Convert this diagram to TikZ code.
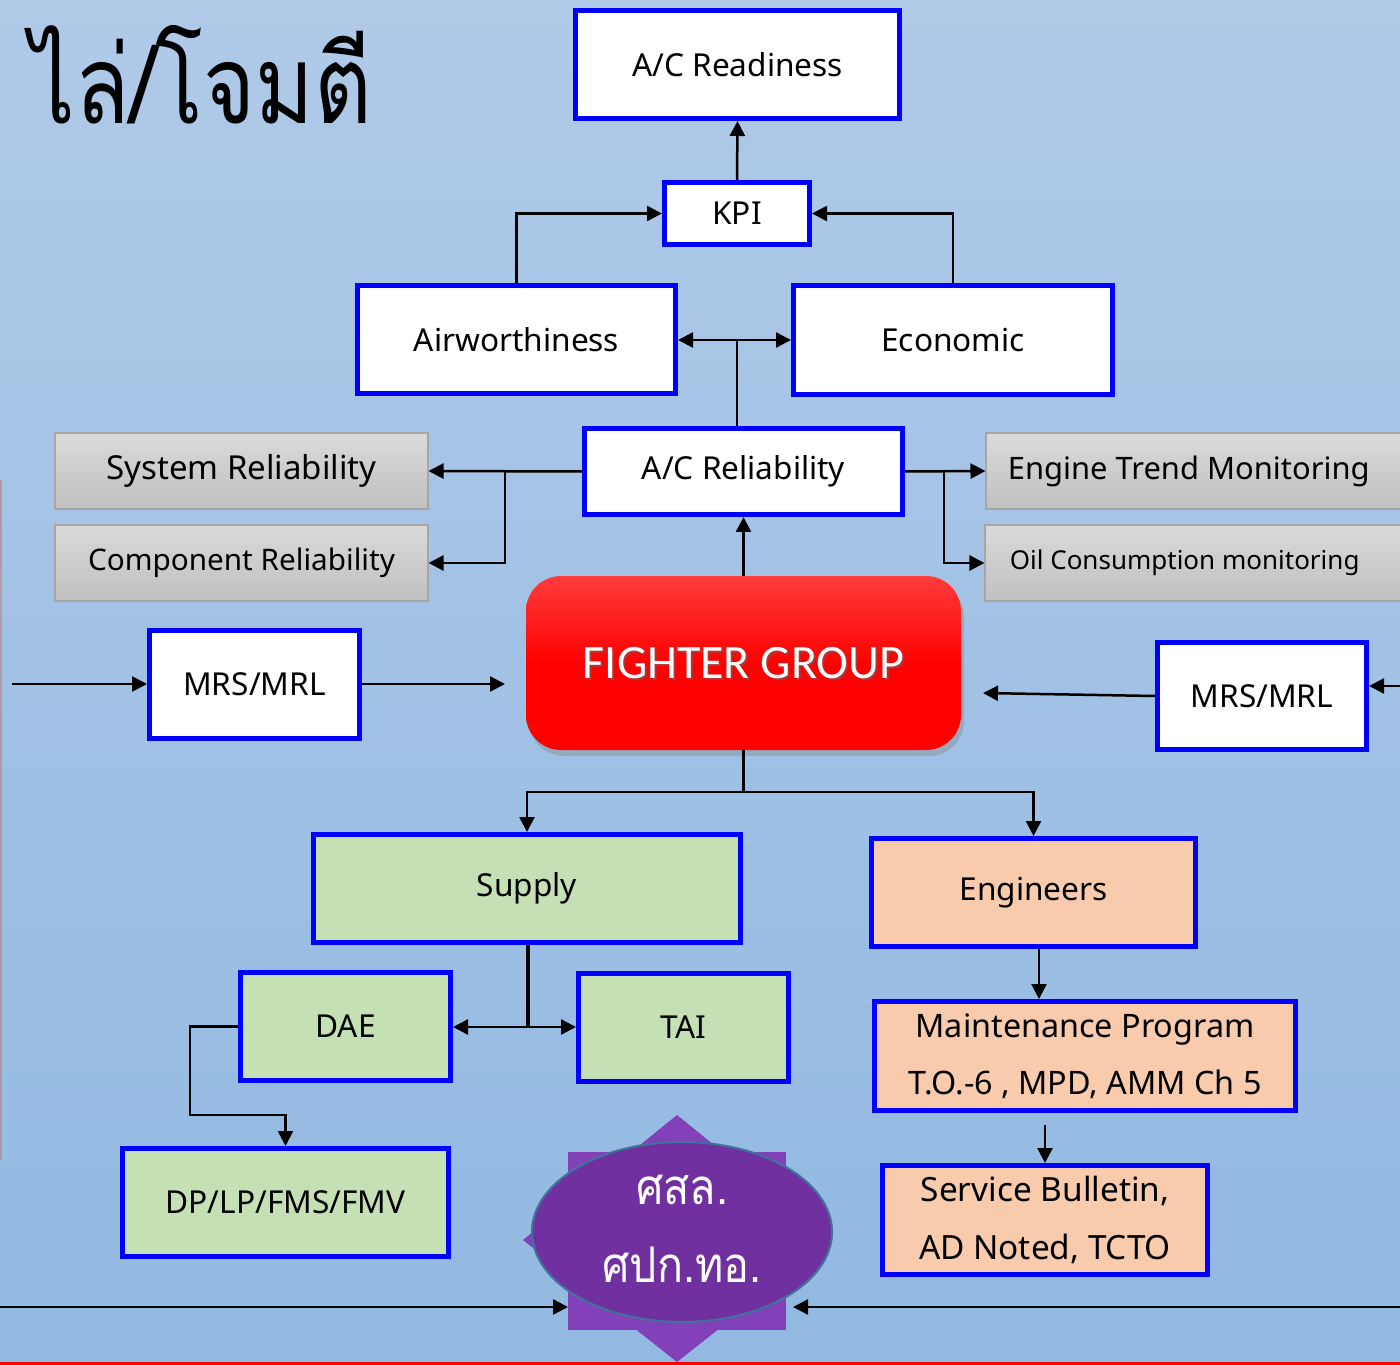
\documentclass[tikz,border=0pt]{standalone}
\usepackage{fontspec}
\setmainfont{Noto Sans}
\newfontfamily\thaifont[Script=Thai]{Loma}
\newfontfamily\calfont{Carlito}
\usetikzlibrary{arrows.meta,shapes.geometric,shadows}
\definecolor{bgtop}{RGB}{176,202,232}
\definecolor{bgbot}{RGB}{146,185,226}
\definecolor{bblue}{RGB}{0,0,255}
\definecolor{grntop}{RGB}{197,224,180}
\definecolor{orng}{RGB}{248,203,173}
\definecolor{gtop}{RGB}{218,218,218}
\definecolor{gbot}{RGB}{192,192,192}
\definecolor{gedge}{RGB}{166,166,166}
\definecolor{purp}{RGB}{112,48,160}
\definecolor{purpl}{RGB}{130,64,185}
\definecolor{elledge}{RGB}{65,113,156}
\definecolor{fred}{RGB}{255,0,0}
\definecolor{fredl}{RGB}{255,60,60}
\tikzset{
  sz/.style 2 args={minimum width=#1*0.02cm, minimum height=#2*0.02cm},
  bbox/.style={draw=bblue, line width=0.1cm, inner sep=0pt, align=center, font=\fontsize{18}{22}\selectfont},
  wbox/.style={bbox, fill=white},
  gbox/.style={bbox, fill=grntop},
  obox/.style={bbox, fill=orng},
  greybox/.style={draw=gedge, line width=0.6pt, top color=gtop, bottom color=gbot, inner sep=0pt, align=center, font=\fontsize{18.8}{22}\selectfont},
  arr/.style={line width=0.05cm, -{Triangle[length=0.3cm,width=0.3cm]}},
  ln/.style={line width=0.05cm},
}
\begin{document}
\begin{tikzpicture}[x=0.02cm, y=-0.02cm]
\path[use as bounding box] (0,0) rectangle (1400,1365);
\clip (0,0) rectangle (1400,1365);
\fill[top color=bgtop, bottom color=bgbot] (0,0) rectangle (1400,1365);
% left edge partial shape
\draw[draw={rgb,255:red,180;green,140;blue,140}, line width=0.06cm, opacity=0.7] (1,480) -- (1,1160);
% title
\node[anchor=base east, inner sep=0pt, font=\thaifont\fontsize{62}{70}\selectfont] (title) at (372,124) {\scalebox{0.815}[1]{ไล่/โจมตี}};

% nodes
\node[wbox, sz={324}{108}] (ready) at (737.5,64.5) {A/C Readiness};
\node[wbox, sz={145}{62}] (kpi) at (737,213.5) {KPI};
\node[wbox, sz={318}{108}] (air) at (516.5,339.5) {Airworthiness};
\node[wbox, sz={319}{109}] (eco) at (953,340) {Economic};
\node[wbox, sz={318}{86}] (acr) at (743.5,471.5) {A/C Reliability};
\node[greybox, sz={373}{76}] (sys) at (241.5,471) {System Reliability};
\node[greybox, sz={373}{76}, font=\fontsize{16.9}{20}\selectfont] (comp) at (241.5,563) {Component Reliability};
\node[greybox, sz={424}{76}, label={[anchor=west, inner sep=0pt, xshift=22*0.02cm, font=\fontsize{17.6}{20}\selectfont]west:Engine Trend Monitoring}] (etm) at (1198,471) {};
\node[greybox, sz={424}{76}, label={[anchor=west, inner sep=0pt, xshift=25*0.02cm, font=\fontsize{14.8}{18}\selectfont]west:Oil Consumption monitoring}] (oil) at (1197,563) {};
\node[rounded corners=0.7cm, top color=fredl, bottom color=fred, middle color=fred, sz={435}{174}, drop shadow={opacity=0.35, shadow xshift=0.06cm, shadow yshift=-0.12cm}] (fg) at (743.5,663) {};
\node[text=black!60, opacity=0.5, font=\calfont\fontsize{27.3}{32}\selectfont] at ([xshift=0.04cm,yshift=-0.05cm]fg.center) {FIGHTER GROUP};
\node[text=white, font=\calfont\fontsize{27.3}{32}\selectfont] (fgt) at (fg.center) {FIGHTER GROUP};
\node[wbox, sz={210}{108}] (mrsl) at (254.5,684.5) {MRS/MRL};
\node[wbox, sz={209}{107}] (mrsr) at (1262,696) {MRS/MRL};
\node[gbox, sz={427}{108}] (sup) at (527,888.5) {Supply};
\node[obox, sz={324}{108}] (eng) at (1033.5,892.5) {Engineers};
\node[gbox, sz={210}{108}] (dae) at (345.5,1026.5) {DAE};
\node[gbox, sz={210}{108}] (tai) at (683.5,1027.5) {TAI};
\node[gbox, sz={326}{108}] (dp) at (285.5,1202.5) {DP/LP/FMS/FMV};
\node[obox, sz={421}{109}, font=\fontsize{18.4}{32.5}\selectfont] (mp) at (1085,1056) {Maintenance Program\\T.O.-6 , MPD, AMM Ch 5};
\node[obox, sz={325}{109}, font=\fontsize{19}{32.5}\selectfont] (sb) at (1045,1220) {Service Bulletin,\\AD Noted, TCTO};

% star
\fill[purpl] (568,1152) rectangle (786,1330);
\fill[purpl] (677,1115) -- (831,1240) -- (677,1362) -- (523,1240) -- cycle;
\node[ellipse, fill=purp, draw=elledge, line width=1.2pt, sz={300}{180}, inner sep=0pt] (ell) at (682,1232) {};
\node[text=white, font=\thaifont\fontsize{28}{32}\selectfont] (t1) at (682,1190) {\scalebox{0.875}[1]{ศสล.}};
\node[text=white, font=\thaifont\fontsize{28}{32}\selectfont] (t2) at (682,1265) {\scalebox{0.875}[1]{ศปก.ทอ.}};

% connectors
\draw[arr] (kpi.north) -- (ready.south);
\draw[arr] (air.north) |- (kpi.west);
\draw[arr] (eco.north) |- (kpi.east);
\coordinate (j1) at (737,340);
\draw[ln] (acr.north -| j1) -- (j1);
\draw[arr] (j1) -- (j1 -| air.east);
\draw[arr] (j1) -- (j1 -| eco.west);
\coordinate (jl) at (505,471);
\draw[arr] (acr.west) -- (sys.east);
\draw[arr] (jl) |- (comp.east);
\coordinate (jr) at (944,471);
\draw[arr] (acr.east) -- (etm.west);
\draw[arr] (jr) |- (oil.west);
\draw[arr] (fg.north) -- (acr.south);
\coordinate (lin) at (12,684);
\coordinate (lout) at (505,684);
\draw[arr] (lin) -- (lin -| mrsl.west);
\draw[arr] (mrsl.east |- lout) -- (lout);
\coordinate (rin) at (1400,686);
\coordinate (rout) at (983,693);
\draw[arr] (rin) -- (rin -| mrsr.east);
\draw[arr] (mrsr.west) -- (rout);
\coordinate (fj) at (743.5,792);
\draw[ln] (fg.south) -- (fj);
\draw[arr] (fj) -| (sup.north);
\draw[arr] (fj) -| (eng.north);
\coordinate (sj) at (528,1027);
\draw[line width=0.08cm] (sup.south -| sj) -- (sj);
\draw[arr] (sj) -- (sj -| dae.east);
\draw[arr] (sj) -- (sj -| tai.west);
\coordinate (c1) at (190,1115);
\draw[arr] (dae.west) -| (c1) -| (dp.north);
\coordinate (ej) at (1039,949);
\draw[arr] (ej) -- (ej |- mp.north);
\coordinate (sbin) at (1045,1125);
\draw[arr] (sbin) -- (sb.north);
\coordinate (bl) at (0,1307);
\coordinate (stl) at (568,1307);
\coordinate (br) at (1400,1307);
\coordinate (str) at (793,1307);
\draw[arr] (bl) -- (stl);
\draw[arr] (br) -- (str);
% bottom red line
\draw[fred, line width=0.07cm] (0,1363.5) -- (1400,1363.5);
\end{tikzpicture}
\end{document}
